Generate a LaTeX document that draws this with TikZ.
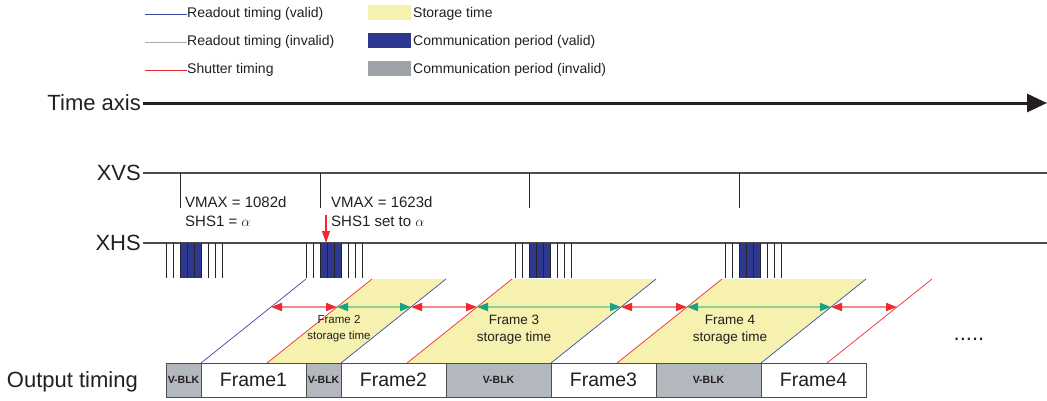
\documentclass[tikz,border=0pt]{standalone}
\usepackage{fontspec}
\setmainfont{Liberation Sans}
\usetikzlibrary{arrows.meta,positioning,calc}
\definecolor{ReadBlue}{HTML}{3A47A6}
\definecolor{CommBlue}{HTML}{2E3890}
\definecolor{CommGray}{HTML}{9DA3A9}
\definecolor{BlkGray}{HTML}{B3B8BF}
\definecolor{StoreYellow}{HTML}{F6F1AE}
\definecolor{ShutRed}{HTML}{EE2A2E}
\definecolor{PinkLine}{HTML}{F28B8D}
\definecolor{MintLine}{HTML}{8FD08C}
\definecolor{TealTip}{HTML}{17A386}
\definecolor{InkGray}{HTML}{231F20}
\definecolor{SigGray}{HTML}{4D4D4D}
\definecolor{PaleGray}{HTML}{ABABAB}

\begin{document}
\begin{tikzpicture}[x=1pt,y=-1pt,>=Latex,
  every node/.append style={text=InkGray},
  sigline/.style={SigGray,line width=1.3pt},
  pulse/.style={black!85,line width=0.8pt},
  readline/.style={ReadBlue,line width=0.7pt},
  shutline/.style={ShutRed,line width=0.7pt},
  legtext/.style={anchor=west,inner sep=0pt,font=\fontsize{14}{16}\selectfont},
  siglabel/.style={anchor=east,inner sep=2pt,font=\fontsize{22}{25}\selectfont},
  annot/.style={anchor=west,align=left,inner sep=0pt,font=\fontsize{15}{19}\selectfont},
  storetext/.style={align=center,inner sep=0pt,font=\fontsize{13.5}{17}\selectfont},
  vblk/.style={draw=SigGray,fill=BlkGray,line width=0.9pt,minimum height=34pt,
    inner sep=0pt,outer sep=0pt,font=\bfseries\fontsize{10.5}{12}\selectfont},
  framebox/.style={vblk,fill=white,font=\fontsize{19.5}{22}\selectfont},
  redgap/.style={PinkLine,line width=1.8pt,
    {Triangle[length=11pt,width=8pt,color=ShutRed]}-{Triangle[length=11pt,width=8pt,color=ShutRed]}},
  greengap/.style={MintLine,line width=1.8pt,
    {Triangle[length=11pt,width=8pt,color=TealTip]}-{Triangle[length=11pt,width=8pt,color=TealTip]}}]
  \useasboundingbox (0,0) rectangle (1047,400);

  % legend
  \node[legtext] (lgRv) at (187,14) {Readout timing (valid)};
  \node[legtext] (lgRi) at (187,42) {Readout timing (invalid)};
  \node[legtext] (lgSh) at (187,70) {Shutter timing};
  \draw[readline] (lgRv.west) -- ++(-42,0);
  \draw[PaleGray,line width=0.7pt] (lgRi.west) -- ++(-42,0);
  \draw[shutline] (lgSh.west) -- ++(-42,0);
  \fill[StoreYellow] (368,5) rectangle (411,20);
  \fill[CommBlue] (368,33) rectangle (411,48);
  \fill[CommGray] (368,61) rectangle (411,76);
  \node[legtext] (lgSt) at (413,14) {Storage time};
  \node[legtext] (lgCv) at (413,42) {Communication period (valid)};
  \node[legtext] (lgCi) at (413,70) {Communication period (invalid)};

  % time axis
  \node[siglabel] (taxis) at (143,103) {Time axis};
  \coordinate (axisEnd) at (1047,103);
  \draw[InkGray,line width=3pt,-{Triangle[length=20pt,width=18pt]}] (taxis.east) -- (axisEnd);

  % XVS / XHS
  \node[siglabel] (xvs) at (143,173) {XVS};
  \node[siglabel] (xhs) at (143,243) {XHS};
  \coordinate (xvsEnd) at (1047,173);
  \coordinate (xhsEnd) at (1047,243);
  \draw[sigline] (xvs.east) -- (xvsEnd);
  \draw[sigline] (xhs.east) -- (xhsEnd);
  \foreach \g in {180,320,529,739}{
    \fill[CommBlue] (\g,243) rectangle (\g+21,278);
    \foreach \p in {-14,-7,...,42}
      \draw[pulse] (\g+\p,243) -- (\g+\p,278);
    \draw[pulse] (\g,173) -- (\g,208);
  }
  \node[annot] (vmax1) at (185,211.5) {VMAX = 1082d\\SHS1 = $\alpha$};
  \node[annot] (vmax2) at (331,211.5) {VMAX = 1623d\\SHS1 set to $\alpha$};
  \coordinate (shsTop) at (326,215);
  \coordinate (shsHit) at (326,243);
  \draw[ShutRed,line width=1.2pt,-{Triangle[length=12pt,width=8pt]}] (shsTop) -- (shsHit);

  % readout (blue) and shutter (red) slopes
  \foreach \x [count=\i] in {201,341,551,761}{
    \coordinate (rdB\i) at (\x,363);
    \coordinate (rdT\i) at (\x+105,279);
    \coordinate (rdM\i) at ($(rdB\i)!2/3!(rdT\i)$);
  }
  \foreach \x [count=\i] in {267,407,617,827}{
    \coordinate (shB\i) at (\x,363);
    \coordinate (shT\i) at (\x+105,279);
    \coordinate (shM\i) at ($(shB\i)!2/3!(shT\i)$);
  }
  \foreach \i [evaluate=\i as \j using int(\i+1)] in {1,2,3}
    \fill[StoreYellow] (shB\i) -- (shT\i) -- (rdT\j) -- (rdB\j) -- cycle;
  \foreach \i in {1,...,4}{
    \draw[readline] (rdB\i) -- (rdT\i);
    \draw[shutline] (shB\i) -- (shT\i);
    \draw[redgap] (rdM\i) -- (shM\i);
  }
  \foreach \i [evaluate=\i as \j using int(\i+1)] in {1,2,3}
    \draw[greengap] (shM\i) -- (rdM\j);

  \node[storetext,font=\fontsize{11.5}{16}\selectfont] (st2) at (339,329) {Frame 2\\storage time};
  \node[storetext] (st3) at (514,329.5) {Frame 3\\storage time};
  \node[storetext] (st4) at (730,329.5) {Frame 4\\storage time};
  \node[inner sep=0pt,font=\fontsize{22}{24}\selectfont] (more) at (969,339) {.....};

  % output timing
  \node[siglabel] (outp) at (140,382) {Output timing};
  \node[vblk,minimum width=35pt,anchor=west] (vb1) at (166,380) {V-BLK};
  \node[framebox,minimum width=105pt,right=0pt of vb1] (fr1) {Frame1};
  \node[vblk,minimum width=35pt,right=0pt of fr1] (vb2) {V-BLK};
  \node[framebox,minimum width=105pt,right=0pt of vb2] (fr2) {Frame2};
  \node[vblk,minimum width=105pt,right=0pt of fr2] (vb3) {V-BLK};
  \node[framebox,minimum width=105pt,right=0pt of vb3] (fr3) {Frame3};
  \node[vblk,minimum width=105pt,right=0pt of fr3] (vb4) {V-BLK};
  \node[framebox,minimum width=105pt,right=0pt of vb4] (fr4) {Frame4};
\end{tikzpicture}
\end{document}
